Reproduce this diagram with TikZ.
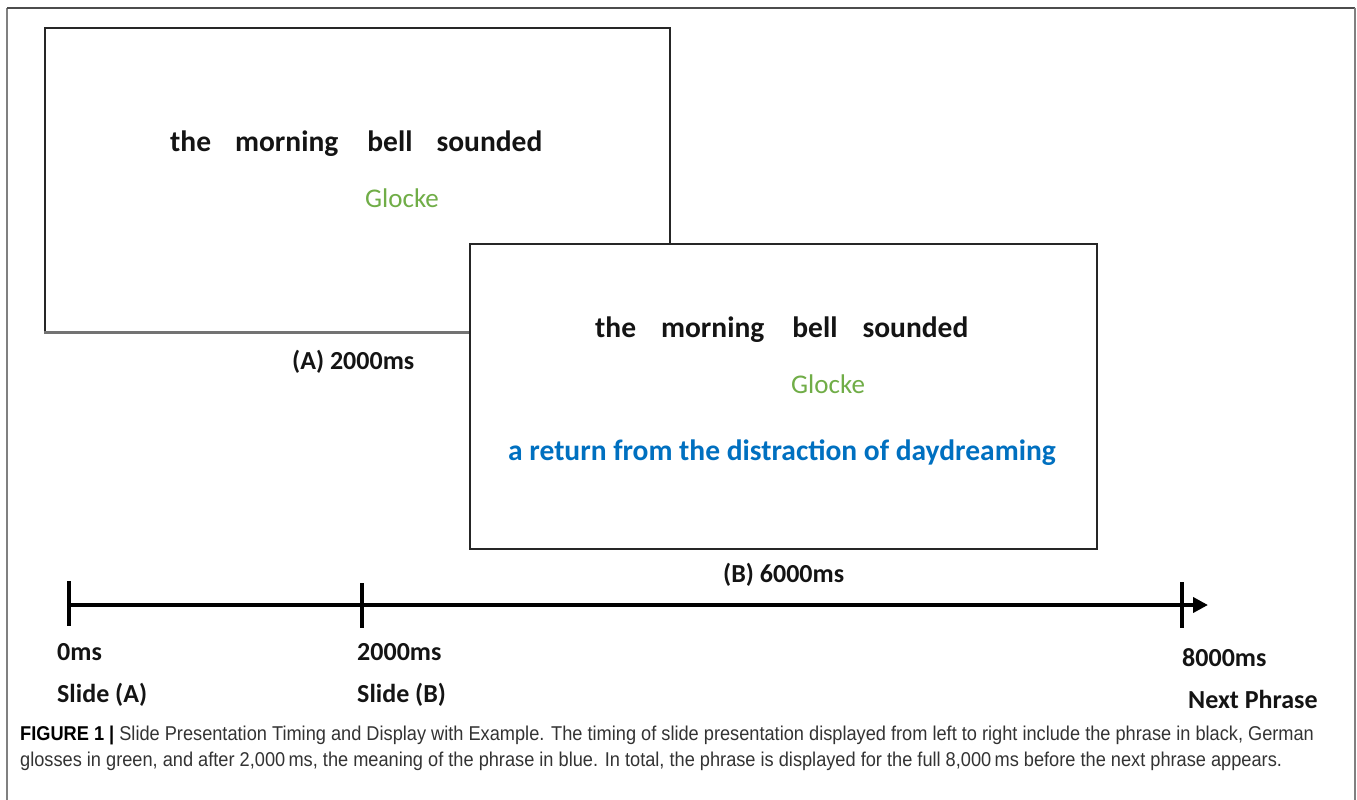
\documentclass[tikz,border=0pt]{standalone}
\usepackage{fontspec}
\setmainfont{Carlito}
\newfontfamily\capfont[FakeStretch=0.91]{Liberation Sans}
\usetikzlibrary{arrows.meta}
\definecolor{glossgreen}{HTML}{70AD47}
\definecolor{meaningblue}{HTML}{0070C0}
\definecolor{captext}{HTML}{333333}
\definecolor{framegray}{HTML}{808080}
\begin{document}
\begin{tikzpicture}[x=1pt,y=-1pt,
  frameline/.style={draw=framegray, line width=2pt},
  slide/.style={draw=black!85, line width=1.6pt, fill=white, inner sep=0pt},
  shadowline/.style={draw=black!55, line width=3pt},
  phrase/.style={anchor=base west, inner sep=0pt, font=\fontsize{29.5}{34}\selectfont\bfseries, text=black!92},
  gloss/.style={anchor=base west, inner sep=0pt, font=\fontsize{27}{32}\selectfont, text=glossgreen},
  meaning/.style={anchor=base west, inner sep=0pt, font=\fontsize{29.5}{34}\selectfont\bfseries, text=meaningblue},
  lab/.style={anchor=base west, inner sep=0pt, font=\fontsize{26}{30}\selectfont\bfseries, text=black!92},
  axisline/.style={draw=black, line width=4pt},
  tickline/.style={draw=black, line width=3.5pt},
  caption/.style={anchor=base west, inner sep=0pt, font=\capfont\fontsize{20}{24}\selectfont, text=captext}
]
\useasboundingbox (0,0) rectangle (1357,800);
% outer frame (open at the bottom)
\coordinate (fbl) at (7,800);
\coordinate (ftl) at (7,8);
\coordinate (ftr) at (1355,8);
\coordinate (fbr) at (1355,800);
\draw[frameline] (fbl) -- (ftl);
\draw[frameline, draw=black!70] (ftl) -- (ftr);
\draw[frameline] (ftr) -- (fbr);

% slide A
\node[slide, minimum width=625pt, minimum height=304pt] (A) at (357.5,180) {};
\draw[shadowline] (A.south west) -- (A.south east);
\node[phrase] (pa) at (170,151) {the\hspace{24pt}morning\hspace{29pt}bell\hspace{24pt}sounded};
\node[gloss] (ga) at (365,207) {Glocke};
\node[lab] (la) at (292,369) {(A) 2000ms};

% slide B
\node[slide, minimum width=627pt, minimum height=305pt] (B) at (783.5,396.5) {};
\node[phrase] (pb) at (595,337) {the\hspace{25pt}morning\hspace{28pt}bell\hspace{25pt}sounded};
\node[gloss] (gb) at (791,393) {Glocke};
\node[meaning] (mb) at (508,460) {a return from the distraction of daydreaming};
\node[lab] (lb) at (723,582) {(B) 6000ms};

% timeline
\coordinate (t0) at (69,605);
\coordinate (tend) at (1208,605);
\draw[axisline, -{Triangle[length=15pt,width=15pt]}] (t0) -- (tend);
\coordinate (k0a) at (69,581);  \coordinate (k0b) at (69,626);
\coordinate (k1a) at (362,583); \coordinate (k1b) at (362,628);
\coordinate (k2a) at (1182,582); \coordinate (k2b) at (1182,628);
\draw[tickline] (k0a) -- (k0b);
\draw[tickline] (k1a) -- (k1b);
\draw[tickline] (k2a) -- (k2b);

\node[lab] (m0) at (57,660) {0ms};
\node[lab] (s0) at (57,702) {Slide (A)};
\node[lab] (m1) at (357,660) {2000ms};
\node[lab] (s1) at (357,702) {Slide (B)};
\node[lab] (m2) at (1182,666) {8000ms};
\node[lab] (s2) at (1188,708) {Next Phrase};

% caption
\node[caption] (c1) at (20,740) {\textbf{\color{black}FIGURE 1 |} Slide Presentation Timing and Display with Example. The timing of slide presentation displayed from left to right include the phrase in black, German};
\node[caption] (c2) at (20,766) {glosses in green, and after 2,000\,ms, the meaning of the phrase in blue. In total, the phrase is displayed for the full 8,000\,ms before the next phrase appears.};
\end{tikzpicture}
\end{document}
